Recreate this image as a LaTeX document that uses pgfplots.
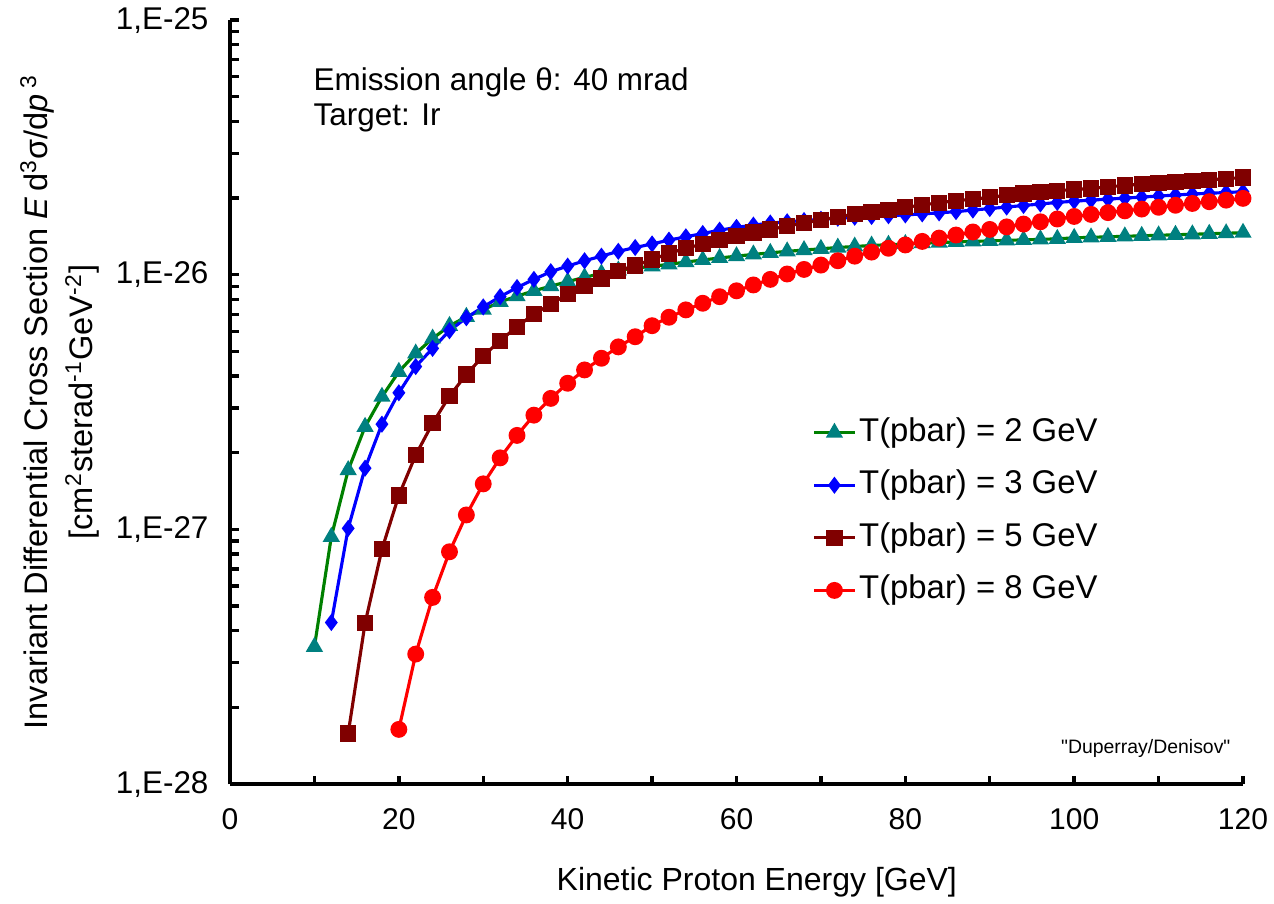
\documentclass[border=0pt]{standalone}
\usepackage{pgfplots}
\pgfplotsset{compat=1.18}
\usepackage{fontspec}
\setmainfont{Liberation Sans}
\newfontfamily\qfont{Liberation Sans}[Ligatures=TeXOff]
\definecolor{cgreen}{RGB}{0,128,0}
\definecolor{cteal}{RGB}{0,128,128}
\definecolor{cblue}{RGB}{0,0,255}
\definecolor{cdred}{RGB}{128,0,0}
\definecolor{cred}{RGB}{255,0,0}
\begin{document}
\begin{tikzpicture}
\begin{axis}[
  scale only axis, width=354.55pt, height=267.4pt,
  xmin=0, xmax=120, ymin=1e-28, ymax=1e-25, ymode=log,
  axis x line*=bottom, axis y line*=left,
  axis line style={line width=1.4pt, -},
  xtick={0,20,...,120}, minor xtick={10,30,...,110},
  ytick={1e-28,1e-27,1e-26,1e-25},
  yticklabels={{1,E-28},{1,E-27},{1,E-26},{1,E-25}},
  minor ytick={2e-28,3e-28,4e-28,5e-28,6e-28,7e-28,8e-28,9e-28,
               2e-27,3e-27,4e-27,5e-27,6e-27,7e-27,8e-27,9e-27,
               2e-26,3e-26,4e-26,5e-26,6e-26,7e-26,8e-26,9e-26},
  tick align=inside, major tick length=3pt, minor tick length=3pt,
  every tick/.style={line width=1.2pt, black},
  /pgf/number format/assume math mode=true,
  xticklabel style={font=\fontsize{10.5}{12}\selectfont, yshift=-5pt},
  yticklabel style={font=\fontsize{11}{13}\selectfont, xshift=-4pt},
  xlabel={Kinetic Proton Energy [GeV]},
  xlabel style={font=\fontsize{11.2}{13}\selectfont, at={(axis description cs:0.52,0)}, anchor=center, yshift=-34.3pt},
  ylabel={Invariant Differential Cross Section \textit{E}\,d\textsuperscript{3}σ/d\textit{p}\,\textsuperscript{3}\\\relax{[}cm\textsuperscript{2}sterad\textsuperscript{-1}GeV\textsuperscript{-2}{]}},
  ylabel style={font=\fontsize{11.4}{15.75}\selectfont, align=center, at={(axis description cs:-0.168,0.5)}, anchor=center},
  legend style={at={(rel axis cs:0.5745,0.485)}, anchor=north west, draw=none, fill=none,
    inner sep=0pt, row sep=5.4pt, font=\fontsize{11.5}{13}\selectfont,
    nodes={inner sep=1pt, text height=8.5pt, text depth=2.5pt}},
  legend cell align=left,
  legend image code/.code={\draw[mark repeat=2,mark phase=2] plot coordinates {(0cm,0cm) (0.25cm,0cm) (0.5cm,0cm)};},
]
\addplot[color=cgreen, line width=1.1pt, mark=triangle*, mark size=2.4pt, mark options={fill=cteal, draw=cteal, solid}] coordinates {
(10,3.46e-28) (12,9.35e-28) (14,1.71e-27) (16,2.53e-27) (18,3.32e-27) (20,4.16e-27)
(22,4.91e-27) (24,5.62e-27) (26,6.30e-27) (28,6.84e-27) (30,7.29e-27) (32,7.83e-27)
(34,8.24e-27) (36,8.65e-27) (38,9.02e-27) (40,9.40e-27) (42,9.77e-27) (44,1.0116e-26)
(46,1.0399e-26) (48,1.0617e-26) (50,1.0789e-26) (52,1.0990e-26) (54,1.1220e-26) (56,1.1429e-26)
(58,1.1641e-26) (60,1.1830e-26) (62,1.2023e-26) (64,1.2190e-26) (66,1.2359e-26) (68,1.2503e-26)
(70,1.2647e-26) (72,1.2794e-26) (74,1.2912e-26) (76,1.3032e-26) (78,1.3122e-26) (80,1.3213e-26)
(82,1.3305e-26) (84,1.3366e-26) (86,1.3459e-26) (88,1.3521e-26) (90,1.3583e-26) (92,1.3646e-26)
(94,1.3709e-26) (96,1.3772e-26) (98,1.3836e-26) (100,1.3964e-26) (102,1.4028e-26) (104,1.4093e-26)
(106,1.4158e-26) (108,1.4223e-26) (110,1.4289e-26) (112,1.4355e-26) (114,1.4421e-26) (116,1.4488e-26)
(118,1.4555e-26) (120,1.4622e-26)
};
\addlegendentry{T(pbar) = 2 GeV}
\addplot[color=cblue, line width=1.1pt, mark=diamond*, mark size=2.1pt, mark options={fill=cblue, draw=cblue, solid}] coordinates {
(12,4.31e-28) (14,1.01e-27) (16,1.74e-27) (18,2.59e-27) (20,3.44e-27) (22,4.36e-27)
(24,5.14e-27) (26,6.03e-27) (28,6.78e-27) (30,7.48e-27) (32,8.20e-27) (34,8.91e-27)
(36,9.59e-27) (38,1.0280e-26) (40,1.0814e-26) (42,1.1350e-26) (44,1.1830e-26) (46,1.2359e-26)
(48,1.2794e-26) (50,1.3213e-26) (52,1.3677e-26) (54,1.4093e-26) (56,1.4521e-26) (58,1.4962e-26)
(60,1.5346e-26) (62,1.5668e-26) (64,1.5959e-26) (66,1.6144e-26) (68,1.6331e-26) (70,1.6520e-26)
(72,1.6672e-26) (74,1.6827e-26) (76,1.6943e-26) (78,1.7061e-26) (80,1.7179e-26) (82,1.7338e-26)
(84,1.7498e-26) (86,1.7701e-26) (88,1.7947e-26) (90,1.8197e-26) (92,1.8450e-26) (94,1.8707e-26)
(96,1.8967e-26) (98,1.9231e-26) (100,1.9454e-26) (102,1.9634e-26) (104,1.9815e-26) (106,1.9999e-26)
(108,2.0184e-26) (110,2.0370e-26) (112,2.0559e-26) (114,2.0749e-26) (116,2.0893e-26) (118,2.1038e-26)
(120,2.1184e-26)
};
\addlegendentry{T(pbar) = 3 GeV}
\addplot[color=cdred, line width=1.1pt, mark=square*, mark size=2.3pt, mark options={fill=cdred, draw=cdred, solid}] coordinates {
(14,1.58e-28) (16,4.28e-28) (18,8.36e-28) (20,1.36e-27) (22,1.96e-27) (24,2.61e-27)
(26,3.34e-27) (28,4.06e-27) (30,4.80e-27) (32,5.51e-27) (34,6.25e-27) (36,7.01e-27)
(38,7.67e-27) (40,8.39e-27) (42,9.04e-27) (44,9.68e-27) (46,1.0375e-26) (48,1.0864e-26)
(50,1.1482e-26) (52,1.2134e-26) (54,1.2706e-26) (56,1.3213e-26) (58,1.3677e-26) (60,1.4191e-26)
(62,1.4655e-26) (64,1.5066e-26) (66,1.5524e-26) (68,1.5996e-26) (70,1.6406e-26) (72,1.6866e-26)
(74,1.7298e-26) (76,1.7660e-26) (78,1.7947e-26) (80,1.8408e-26) (82,1.8793e-26) (84,1.9187e-26)
(86,1.9543e-26) (88,1.9815e-26) (90,2.0137e-26) (92,2.0512e-26) (94,2.0845e-26) (96,2.1086e-26)
(98,2.1380e-26) (100,2.1627e-26) (102,2.1827e-26) (104,2.2131e-26) (106,2.2439e-26) (108,2.2699e-26)
(110,2.2961e-26) (112,2.3174e-26) (114,2.3388e-26) (116,2.3605e-26) (118,2.3823e-26) (120,2.4099e-26)
};
\addlegendentry{T(pbar) = 5 GeV}
\addplot[color=cred, line width=1.1pt, mark=*, mark size=2.4pt, mark options={fill=cred, draw=cred, solid}] coordinates {
(20,1.64e-28) (22,3.24e-28) (24,5.41e-28) (26,8.17e-28) (28,1.14e-27) (30,1.51e-27)
(32,1.91e-27) (34,2.34e-27) (36,2.81e-27) (38,3.27e-27) (40,3.75e-27) (42,4.23e-27)
(44,4.70e-27) (46,5.21e-27) (48,5.71e-27) (50,6.31e-27) (52,6.81e-27) (54,7.28e-27)
(56,7.73e-27) (58,8.20e-27) (60,8.65e-27) (62,9.12e-27) (64,9.59e-27) (66,1.0069e-26)
(68,1.0495e-26) (70,1.0914e-26) (72,1.1350e-26) (74,1.1830e-26) (76,1.2274e-26) (78,1.2706e-26)
(80,1.3092e-26) (82,1.3521e-26) (84,1.3932e-26) (86,1.4322e-26) (88,1.4723e-26) (90,1.5066e-26)
(92,1.5417e-26) (94,1.5812e-26) (96,1.6144e-26) (98,1.6558e-26) (100,1.6943e-26) (102,1.7258e-26)
(104,1.7539e-26) (106,1.7824e-26) (108,1.8113e-26) (110,1.8408e-26) (112,1.8750e-26) (114,1.9055e-26)
(116,1.9364e-26) (118,1.9634e-26) (120,1.9953e-26)
};
\addlegendentry{T(pbar) = 8 GeV}
\node[anchor=west, inner sep=0pt, font=\fontsize{11}{13}\selectfont] at (rel axis cs:0.082,0.919) {Emission angle θ: 40 mrad};
\node[anchor=west, inner sep=0pt, font=\fontsize{11}{13}\selectfont] at (rel axis cs:0.082,0.872) {Target: Ir};
\node[anchor=center, font=\qfont\fontsize{6.8}{8}\selectfont] at (rel axis cs:0.904,0.047) {"Duperray/Denisov"};
\end{axis}
\pgfresetboundingbox
\path (-80.5pt,-41.65pt) rectangle (365.4pt,274.4pt);
\end{tikzpicture}
\end{document}
